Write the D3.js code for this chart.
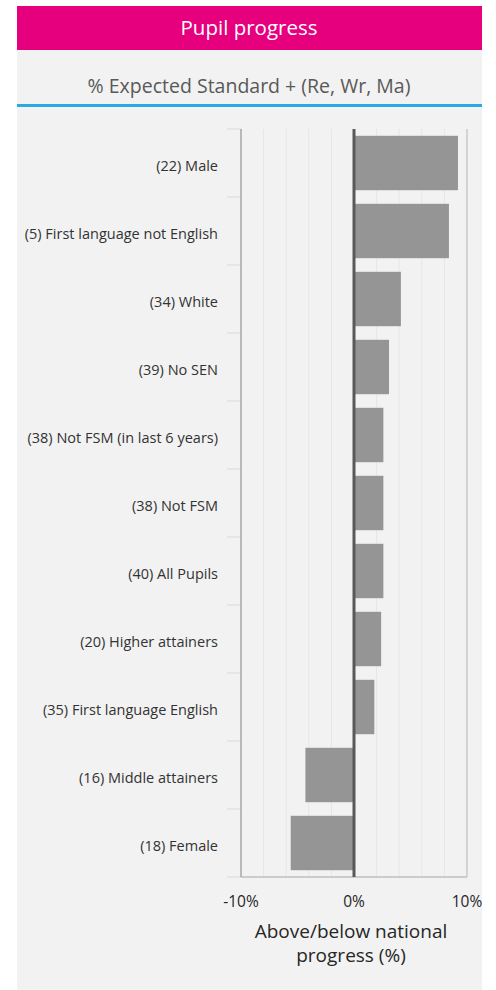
<!DOCTYPE html>
<html>
<head>
<meta charset="utf-8">
<script src="https://cdn.jsdelivr.net/npm/d3@7"></script>
<style>
  html, body { margin: 0; padding: 0; background: #ffffff; }
  svg { display: block; font-family: "Open Sans", Lato, sans-serif; }
</style>
</head>
<body>
<svg id="chart" width="496" height="990"></svg>
<script>
const PANEL_LEFT  = 17;
const PANEL_RIGHT = 482;
const PLOT_LEFT   = 241;
const PLOT_RIGHT  = 467;
const PLOT_TOP    = 129;
const PLOT_BOTTOM = 877;

var categories = [
    "(22) Male",
    "(5) First language not English",
    "(34) White",
    "(39) No SEN",
    "(38) Not FSM (in last 6 years)",
    "(38) Not FSM",
    "(40) All Pupils",
    "(20) Higher attainers",
    "(35) First language English",
    "(16) Middle attainers",
    "(18) Female"
];
var values = [9.2, 8.4, 4.15, 3.1, 2.6, 2.6, 2.6, 2.4, 1.8, -4.3, -5.6];
var xTicks = [-10, 0, 10];
var gridValues = [-8, -6, -4, -2, 2, 4, 6, 8];

var svg = d3.select("#chart");

// panel + header
svg.append("rect")
    .attr("x", PANEL_LEFT).attr("y", 6)
    .attr("width", PANEL_RIGHT - PANEL_LEFT).attr("height", 984)
    .attr("fill", "#f2f2f2");
svg.append("rect")
    .attr("x", PANEL_LEFT).attr("y", 6)
    .attr("width", PANEL_RIGHT - PANEL_LEFT).attr("height", 44)
    .attr("fill", "#e6007e");
svg.append("text")
    .attr("x", 249).attr("y", 35)
    .attr("text-anchor", "middle")
    .attr("fill", "#ffffff")
    .attr("font-size", 20.5)
    .text("Pupil progress");
svg.append("text")
    .attr("x", 249).attr("y", 93)
    .attr("text-anchor", "middle")
    .attr("fill", "#595959")
    .attr("font-size", 19.5)
    .text("% Expected Standard + (Re, Wr, Ma)");
svg.append("rect")
    .attr("x", PANEL_LEFT).attr("y", 104)
    .attr("width", PANEL_RIGHT - PANEL_LEFT).attr("height", 3)
    .attr("fill", "#29abe2");

var x = d3.scaleLinear().domain([-10, 10]).range([PLOT_LEFT, PLOT_RIGHT]);
var y = d3.scaleBand().domain(categories).range([PLOT_TOP, PLOT_BOTTOM]).paddingInner(0.2).paddingOuter(0.1);

// gridlines
svg.append("g").selectAll("line")
    .data(gridValues)
    .join("line")
    .attr("x1", d => x(d)).attr("x2", d => x(d))
    .attr("y1", PLOT_TOP).attr("y2", PLOT_BOTTOM)
    .attr("stroke", "#e6e6e6").attr("stroke-width", 1);

// right border + bottom line
svg.append("line")
    .attr("x1", x(10)).attr("x2", x(10))
    .attr("y1", PLOT_TOP).attr("y2", PLOT_BOTTOM)
    .attr("stroke", "#c8c8c8").attr("stroke-width", 1.5);
svg.append("line")
    .attr("x1", PLOT_LEFT).attr("x2", PLOT_RIGHT)
    .attr("y1", PLOT_BOTTOM).attr("y2", PLOT_BOTTOM)
    .attr("stroke", "#bfbfbf").attr("stroke-width", 1.5);

// category ticks, on the band boundaries
var step = (PLOT_BOTTOM - PLOT_TOP) / categories.length;
svg.append("g").selectAll("line")
    .data(d3.range(0, categories.length + 1).map(i => PLOT_TOP + i * step))
    .join("line")
    .attr("x1", PLOT_LEFT - 14).attr("x2", PLOT_LEFT)
    .attr("y1", d => d).attr("y2", d => d)
    .attr("stroke", "#d9d9d9").attr("stroke-width", 1);

// left axis line
svg.append("line")
    .attr("x1", PLOT_LEFT).attr("x2", PLOT_LEFT)
    .attr("y1", PLOT_TOP).attr("y2", PLOT_BOTTOM)
    .attr("stroke", "#a6a6a6").attr("stroke-width", 1.5);

// bars
svg.append("g").selectAll("rect")
    .data(categories)
    .join("rect")
    .attr("x", (d, i) => x(Math.min(0, values[i])))
    .attr("width", (d, i) => Math.abs(x(values[i]) - x(0)))
    .attr("y", d => y(d))
    .attr("height", y.bandwidth())
    .attr("fill", "#959595");

// zero line
svg.append("line")
    .attr("x1", x(0)).attr("x2", x(0))
    .attr("y1", PLOT_TOP).attr("y2", PLOT_BOTTOM)
    .attr("stroke", "#595959").attr("stroke-width", 3);

// category labels
svg.append("g").selectAll("text")
    .data(categories)
    .join("text")
    .attr("x", 218)
    .attr("y", d => y(d) + y.bandwidth() / 2 + 3)
    .attr("dy", "0.35em")
    .attr("text-anchor", "end")
    .attr("fill", "#333333")
    .attr("font-size", 14.5)
    .text(d => d);

// x tick labels
svg.append("g").selectAll("text")
    .data(xTicks)
    .join("text")
    .attr("x", d => x(d))
    .attr("y", 907)
    .attr("text-anchor", "middle")
    .attr("fill", "#262626")
    .attr("font-size", 15.5)
    .text(d => d + "%");

// axis title
var title = svg.append("text")
    .attr("text-anchor", "middle")
    .attr("fill", "#262626")
    .attr("font-size", 19);
title.append("tspan").attr("x", 351).attr("y", 938).text("Above/below national");
title.append("tspan").attr("x", 351).attr("y", 962).text("progress (%)");
</script>
</body>
</html>
